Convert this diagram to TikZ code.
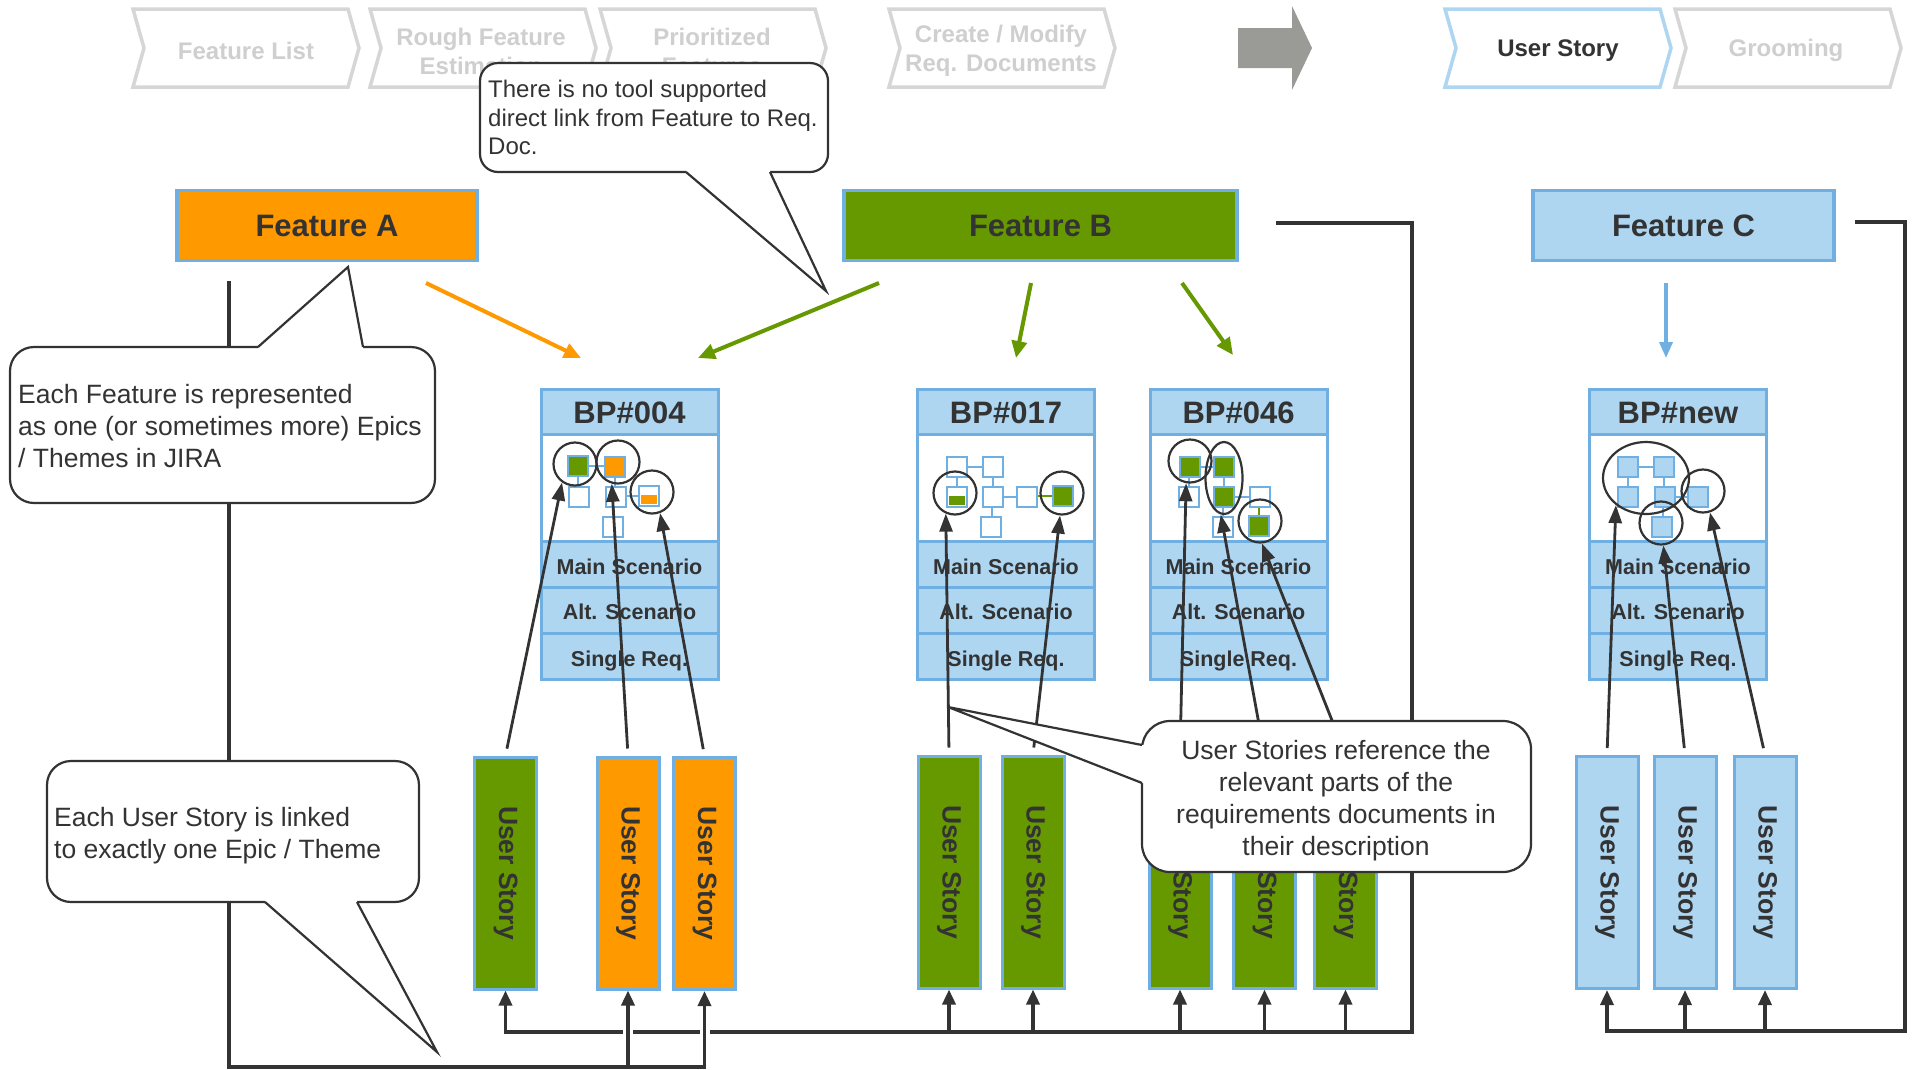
\documentclass[tikz,border=0pt]{standalone}
\usepackage{fontspec}
\setmainfont{Liberation Sans}
\usepackage{graphicx}
\usetikzlibrary{arrows.meta,shapes.geometric,calc}
\definecolor{orangeF}{HTML}{FF9900}
\definecolor{greenF}{HTML}{669900}
\definecolor{lblue}{HTML}{AED6F1}
\definecolor{bblue}{HTML}{6FAFE2}
\definecolor{dark}{HTML}{333333}
\definecolor{chevgray}{HTML}{D6D6D6}
\definecolor{chevtext}{HTML}{CFCFCF}
\definecolor{arrowgray}{HTML}{9A9B97}
\newcommand{\fs}[2]{\fontsize{#1}{#2}\selectfont}
\newcommand{\chevshape}[2]{\draw[chevline, draw=#2] (#1,9) -- (#1+215,9) -- (#1+226,48) -- (#1+215,87) -- (#1,87) -- (#1+11,48) -- cycle;}
\newcommand{\sqr}[3]{\draw[sqline, fill=#3] (#1,#2) rectangle ++(20,20);}
\newcommand{\hsq}[3]{\draw[sqline, fill=white] (#1,#2) rectangle ++(20,20); \fill[#3] (#1+2,#2+9) rectangle (#1+18,#2+18);}
\newcommand{\bpblock}[3]{%
  \node[bph] (#1h) at (#2,411.5) {#3};
  \node[bpd] (#1d) at (#2,488) {};
  \node[bpr] (#1m) at (#2,564.5) {Main Scenario};
  \node[bpr] (#1a) at (#2,610) {Alt. Scenario};
  \node[bpr] (#1s) at (#2,656.5) {Single Req.};}
\begin{document}
\begin{tikzpicture}[x=1pt,y=-1pt,line join=miter,
  chevline/.style={line width=3.5, fill=white},
  chevtxt/.style={text=chevtext, font=\bfseries\fs{24}{29}, align=center, inner sep=0},
  featbox/.style={draw=bblue, line width=3.5, minimum height=70, inner sep=0, font=\bfseries\fs{31}{36}, text=dark, text height=22.5pt, text depth=0pt},
  bph/.style={draw=bblue, fill=lblue, line width=3, minimum width=177, minimum height=45, inner sep=0, font=\bfseries\fs{31}{36}, text=dark, text height=24.5pt, text depth=0pt},
  bpd/.style={draw=bblue, fill=white, line width=3, minimum width=177, minimum height=108, inner sep=0},
  bpr/.style={draw=bblue, fill=lblue, line width=3, minimum width=177, minimum height=46, inner sep=0, font=\bfseries\fs{21.5}{24}, text=dark, text height=19pt, text depth=0pt},
  usbox/.style={draw=bblue, line width=3, minimum width=62, minimum height=232, inner sep=0, font=\bfseries\fs{26.5}{30}, text=dark},
  sqline/.style={draw=bblue, line width=2},
  icl/.style={draw=bblue, line width=2},
  ring/.style={circle, draw=dark, line width=2.2, minimum size=43, inner sep=0},
  oval/.style={ellipse, draw=dark, line width=2.2, inner sep=0},
  refarr/.style={draw=dark, line width=2.8, -{Triangle[length=18pt,width=13pt]}, shorten <=7pt},
  busline/.style={draw=dark, line width=3.5},
  busarr/.style={busline, -{Triangle[length=15pt,width=13pt]}},
  farr/.style={line width=4, -{Triangle[length=17pt,width=15pt]}},
  cbox/.style={draw=dark, fill=white, line width=2.2, rounded corners=24},
  cline/.style={draw=dark, line width=2.2},
  ctext/.style={text=dark, inner sep=0, align=left, font=\fs{26.5}{32}}]
\useasboundingbox (0,0) rectangle (1914,1069);
\fill[white] (0,0) rectangle (1914,1069);

% process chevrons
\chevshape{133}{chevgray}
\chevshape{370}{chevgray}
\chevshape{600}{chevgray}
\chevshape{889}{chevgray}
\chevshape{1445}{lblue}
\chevshape{1675}{chevgray}
\node[chevtxt] (ch1) at (246,50.5) {Feature List};
\node[chevtxt] (ch2) at (481,51.5) {Rough Feature\\Estimation};
\node[chevtxt] (ch3) at (712,51.5) {Prioritized\\Features};
\node[chevtxt] (ch4) at (1001,51) {Create / Modify\\Req. Documents};
\node[chevtxt, text=dark] (ch5) at (1558,50.5) {User Story};
\node[chevtxt] (ch6) at (1786,50.5) {Grooming};
\fill[arrowgray] (1238,28) -- (1292,28) -- (1292,6) -- (1312,48) -- (1292,90) -- (1292,68) -- (1238,68) -- cycle;

% features
\node[featbox, fill=orangeF, minimum width=300] (fA) at (327,225.5) {Feature A};
\node[featbox, fill=greenF, minimum width=393] (fB) at (1040.5,225.5) {Feature B};
\node[featbox, fill=lblue, minimum width=301] (fC) at (1683.5,225.5) {Feature C};

% BP documents
\bpblock{bpA}{629.5}{BP\#004}
\bpblock{bpB}{1006}{BP\#017}
\bpblock{bpC}{1238.5}{BP\#046}
\bpblock{bpD}{1678}{BP\#new}

% icon BP#004
\draw[icl] (588,466) -- (605,466);
\draw[icl] (578,476) -- (578,487);
\draw[icl] (615,477) -- (615,487);
\draw[icl] (614,507) -- (614,517);
\draw[icl] (626,496) -- (639,496);
\sqr{568}{456}{greenF}
\sqr{605}{457}{orangeF}
\sqr{569}{487}{white}
\sqr{606}{487}{white}
\sqr{603}{517}{white}
\hsq{639}{486}{orangeF}
\node[ring] (c1) at (575,464) {};
\node[ring] (c2) at (618,462) {};
\node[ring] (c3) at (652,492) {};

% icon BP#017
\draw[icl] (967,467) -- (983,467);
\draw[icl] (957,477) -- (957,487);
\draw[icl] (993,477) -- (993,487);
\draw[icl] (992,507) -- (992,517);
\draw[icl] (1003,497) -- (1017,497);
\draw[line width=2, greenF] (1037,496) -- (1053,496);
\sqr{947}{457}{white}
\sqr{983}{457}{white}
\hsq{947}{487}{greenF}
\sqr{983}{487}{white}
\sqr{981}{517}{white}
\sqr{1017}{487}{white}
\sqr{1053}{486}{greenF}
\node[ring] (c4) at (955,493) {};
\node[ring] (c5) at (1062,493) {};

% icon BP#046
\draw[icl] (1200,467) -- (1214,467);
\draw[icl] (1189,477) -- (1189,487);
\draw[icl] (1224,477) -- (1224,487);
\draw[icl] (1234,497) -- (1250,497);
\draw[icl] (1223,507) -- (1223,517);
\draw[line width=2, greenF] (1259,507) -- (1259,516);
\sqr{1180}{457}{greenF}
\sqr{1214}{457}{greenF}
\sqr{1179}{487}{white}
\sqr{1214}{487}{greenF}
\sqr{1250}{487}{white}
\sqr{1213}{517}{white}
\sqr{1249}{516}{greenF}
\node[ring] (c6) at (1190,461) {};
\node[oval, minimum width=37, minimum height=72] (e7) at (1224,478) {};
\node[ring] (c8) at (1260,521) {};

% icon BP#new
\draw[icl] (1638,467) -- (1654,467);
\draw[icl] (1628,477) -- (1628,487);
\draw[icl] (1664,477) -- (1664,487);
\draw[icl] (1675,497) -- (1688,497);
\draw[icl] (1663,507) -- (1663,517);
\sqr{1618}{457}{lblue}
\sqr{1654}{457}{lblue}
\sqr{1618}{487}{lblue}
\sqr{1655}{487}{lblue}
\sqr{1688}{487}{lblue}
\sqr{1652}{517}{lblue}
\node[oval, minimum width=86, minimum height=72] (e9) at (1646,478) {};
\node[ring] (c10) at (1703,491) {};
\node[ring] (c11) at (1661,523) {};

% user stories
\node[usbox, fill=greenF] (us1) at (505.5,873) {\rotatebox{-90}{User Story}};
\node[usbox, fill=orangeF] (us2) at (628,873) {\rotatebox{-90}{User Story}};
\node[usbox, fill=orangeF] (us3) at (704.5,873.5) {\rotatebox{-90}{User Story}};
\node[usbox, fill=greenF] (us4) at (949,872) {\rotatebox{-90}{User Story}};
\node[usbox, fill=greenF] (us5) at (1033,872) {\rotatebox{-90}{User Story}};
\node[usbox, fill=greenF] (us6) at (1180,872) {\rotatebox{-90}{User Story}};
\node[usbox, fill=greenF] (us7) at (1264.5,872) {\rotatebox{-90}{User Story}};
\node[usbox, fill=greenF] (us8) at (1345.5,872) {\rotatebox{-90}{User Story}};
\node[usbox, fill=lblue] (us9) at (1607,872.5) {\rotatebox{-90}{User Story}};
\node[usbox, fill=lblue] (us10) at (1685,872.5) {\rotatebox{-90}{User Story}};
\node[usbox, fill=lblue] (us11) at (1765,872.5) {\rotatebox{-90}{User Story}};

% epic links (buses)
\coordinate (fbO) at (1276,223);
\coordinate (bB) at (1412,1032);
\draw[busarr] (fbO) -| (bB) -- (us1.south |- bB) -- (us1.south);
\foreach \u in {us4,us5,us6,us7,us8} \draw[busarr] (\u.south |- bB) -- (\u.south);

\coordinate (faL) at (229,281);
\coordinate (bA) at (229,1067);
\draw[white, line width=10] ($(us2.south |- bB)+(0,-6)$) -- ($(us2.south |- bB)+(0,6)$);
\draw[white, line width=10] ($(us3.south |- bB)+(0,-6)$) -- ($(us3.south |- bB)+(0,6)$);
\draw[busarr] (faL) |- (us3.south |- bA) -- (us3.south);
\draw[busarr] (us2.south |- bA) -- (us2.south);

\coordinate (fcO) at (1855,222);
\coordinate (bC) at (1905,1031);
\draw[busarr] (fcO) -| (bC) -- (us9.south |- bC) -- (us9.south);
\draw[busarr] (us10.south |- bC) -- (us10.south);
\draw[busarr] (us11.south |- bC) -- (us11.south);

% feature to document arrows
\coordinate (faO) at (426,283);  \coordinate (faI) at (581,358);
\coordinate (fbO1) at (879,283); \coordinate (fbI1) at (698,358);
\coordinate (fbO2) at (1031,283); \coordinate (fbI2) at (1016,358);
\coordinate (fbO3) at (1182,283); \coordinate (fbI3) at (1233,355);
\coordinate (fcO1) at (1666,283); \coordinate (fcI1) at (1666,358);
\draw[farr, orangeF] (faO) -- (faI);
\draw[farr, greenF] (fbO1) -- (fbI1);
\draw[farr, greenF] (fbO2) -- (fbI2);
\draw[farr, greenF] (fbO3) -- (fbI3);
\draw[line width=3.5, bblue, -{Triangle[length=16pt,width=13pt]}] (fcO1) -- (fcI1);

% references from user stories to documents
\draw[refarr] (us1.north) -- (c1.235);
\draw[refarr] (us2.north) -- (c2.254);
\draw[refarr] (us3.north) -- (c3.291);
\draw[refarr] (us4.north) -- (c4.246);
\draw[refarr] (us5.north) -- (c5.265);
\draw[refarr] (us6.north) -- (c6.260);
\draw[refarr] (us7.north) -- (e7.265);
\draw[refarr] (us8.north) -- (c8.275);
\draw[refarr] (us9.north) -- (e9.222);
\draw[refarr] (us10.north) -- (c11.276);
\draw[refarr] (us11.north) -- (c10.288);

% callout 1
\draw[cbox, rounded corners=18] (480,63) rectangle (828,172);
\fill[white] (686,166) -- (686,172) -- (826,291) -- (770,172) -- (770,166) -- cycle;
\draw[cline] (686,172) -- (826,291) -- (770,172);
\node[ctext, font=\fs{24}{28.5}, anchor=north west] (t1) at (488,80) {There is no tool supported\\direct link from Feature to Req.\\Doc.};

% callout 2
\draw[cbox] (10,347) rectangle (435,503);
\fill[white] (258,353) -- (258,347) -- (348,267) -- (363,347) -- (363,353) -- cycle;
\draw[cline] (258,347) -- (348,267) -- (363,347);
\node[ctext, anchor=north west] (t2) at (18,384) {Each Feature is represented\\as one (or sometimes more) Epics\\/ Themes in JIRA};

% callout 3
\draw[cbox] (47,761) rectangle (419,902);
\fill[white] (265,896) -- (265,902) -- (437,1052) -- (357,902) -- (357,896) -- cycle;
\draw[cline] (265,902) -- (437,1052) -- (357,902);
\node[ctext, anchor=north west] (t3) at (54,807) {Each User Story is linked\\to exactly one Epic / Theme};

% callout 4
\draw[cbox, rounded corners=28] (1142,721) rectangle (1531,872);
\fill[white] (1148,745) -- (1142,745) -- (948,707) -- (1142,783) -- (1148,783) -- cycle;
\draw[cline] (1142,745) -- (948,707) -- (1142,783);
\node[ctext, align=center, anchor=north] (t4) at (1336,740) {User Stories reference the\\relevant parts of the\\requirements documents in\\their description};
\end{tikzpicture}
\end{document}
